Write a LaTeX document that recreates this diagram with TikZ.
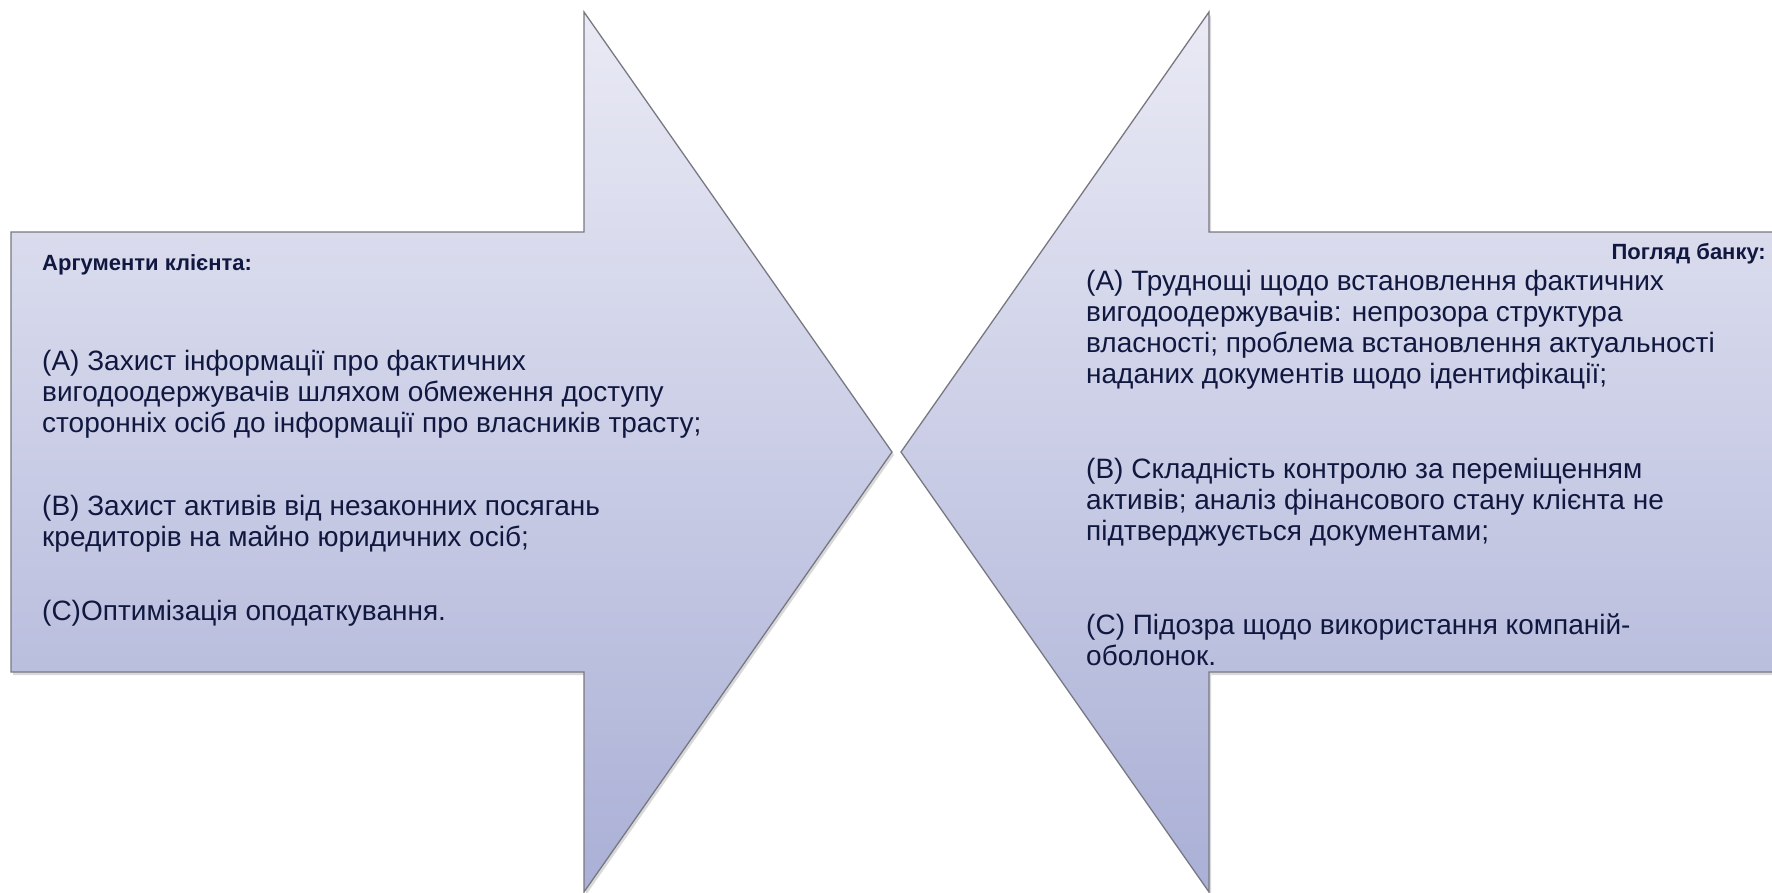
\documentclass[tikz,border=0pt]{standalone}
\usepackage{fontspec}
\setmainfont{Liberation Sans}
\usetikzlibrary{shadows}
\definecolor{txt}{RGB}{16,24,64}
\definecolor{topc}{RGB}{234,234,245}
\definecolor{botc}{RGB}{170,176,214}
\definecolor{edge}{RGB}{120,120,130}
\tikzset{
  arrowshape/.style={draw=edge, line width=1.3pt, line join=miter, top color=topc, bottom color=botc,
    drop shadow={opacity=0.3, shadow xshift=2pt, shadow yshift=-3pt}},
  para/.style={inner sep=0pt, align=left, text=txt, font=\fontsize{28}{31.3}\selectfont},
  head/.style={inner sep=0pt, text=txt, font=\fontsize{22}{26}\selectfont\bfseries}
}
\begin{document}
\begin{tikzpicture}[x=1pt,y=-1pt]
\useasboundingbox (0,0) rectangle (1772,892);
% left arrow
\path[arrowshape] (11,232) -- (584,232) -- (584,12) -- (892,452) -- (584,892) -- (584,672) -- (11,672) -- cycle;
% right arrow
\path[arrowshape] (1800,232) -- (1209,232) -- (1209,12) -- (901,452) -- (1209,892) -- (1209,672) -- (1800,672) -- cycle;
% left text (anchor base = baseline of last line)
\node[head, anchor=base west] (lh) at (42,270) {Аргументи клієнта:};
\node[para, anchor=base west] (la) at (42,432.6) {(A) Захист інформації про фактичних\\вигодоодержувачів шляхом обмеження доступу\\сторонніх осіб до інформації про власників трасту;};
\node[para, anchor=base west] (lb) at (42,546.3) {(B) Захист активів від незаконних посягань\\кредиторів на майно юридичних осіб;};
\node[para, anchor=base west] (lc) at (42,620) {(C)Оптимізація оподаткування.};
% right text
\node[head, anchor=base east] (rh) at (1766,259) {Погляд банку:};
\node[para, anchor=base west] (ra) at (1086,383.9) {(A) Труднощі щодо встановлення фактичних\\вигодоодержувачів: непрозора структура\\власності; проблема встановлення актуальності\\наданих документів щодо ідентифікації;};
\node[para, anchor=base west] (rb) at (1086,540.6) {(B) Складність контролю за переміщенням\\активів; аналіз фінансового стану клієнта не\\підтверджується документами;};
\node[para, anchor=base west] (rc) at (1086,665.3) {(C) Підозра щодо використання компаній-\\оболонок.};
\end{tikzpicture}
\end{document}
